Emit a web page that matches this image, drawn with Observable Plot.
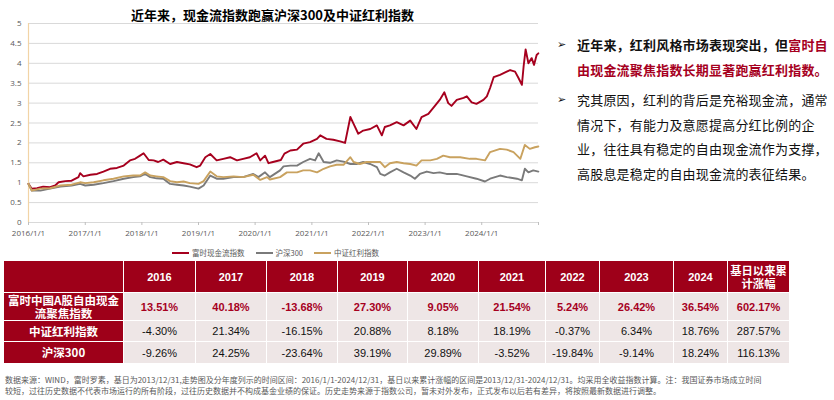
<!DOCTYPE html>
<html><head><meta charset="utf-8">
<script src="https://cdn.jsdelivr.net/npm/d3@7"></script>
<script src="https://cdn.jsdelivr.net/npm/@observablehq/plot@0.6"></script>
<style>
body{margin:0;background:#fff;font-family:"Noto Sans CJK SC",sans-serif;}
#wrap{position:relative;width:834px;height:400px;overflow:hidden;background:#fff;}
#title{position:absolute;left:0;top:5px;width:545px;text-align:center;font-size:13px;font-weight:bold;color:#000;line-height:20px;}
#chart{position:absolute;left:0;top:0;}
#legend{position:absolute;left:172px;top:247px;display:flex;align-items:center;font-size:7.5px;color:#595959;line-height:12px;white-space:nowrap;}
#legend .it{display:flex;align-items:center;margin-right:11px;}
#legend .sw{width:17px;height:2px;margin-right:3px;}
#tbl{position:absolute;left:3px;top:260px;border-collapse:collapse;table-layout:fixed;width:786px;}
#tbl td{border:1.5px solid #fff;text-align:center;padding:0;font-family:"Liberation Sans",Arial,sans-serif;font-size:11px;color:#111;background:#EEE6E6;}
#tbl tr.h td{background:#9E0019;color:#fff;font-weight:bold;height:31px;}
#tbl td.nm{background:#9E0019;color:#fff;font-weight:bold;font-family:"Noto Sans CJK SC",sans-serif;font-size:11.5px;line-height:13px;white-space:pre-line;}
#tbl tr.h td.last{font-family:"Noto Sans CJK SC",sans-serif;font-size:11.3px;line-height:13px;white-space:pre-line;}
#tbl td.red{color:#A6001E;font-weight:bold;}
#side{position:absolute;left:557px;top:33px;width:277px;font-size:13px;color:#111;}
#side .p{position:relative;padding-left:20px;line-height:24.5px;letter-spacing:0.2px;white-space:nowrap;}
#side .b{position:absolute;left:0;top:0;font-family:"DejaVu Sans",sans-serif;font-size:11px;}
#side .red{color:#A6001E;}
#note{position:absolute;left:5px;top:374px;font-size:8px;line-height:11px;color:#595959;white-space:nowrap;}
</style></head><body>
<div id="wrap">
  <div id="chart"></div>
  <div id="title"></div>
  <div id="legend"></div>
  <table id="tbl"></table>
  <div id="side"></div>
  <div id="note"></div>
</div>
<script>
// ---------- chart data ----------
const seriesNames = ["富时现金流指数", "沪深300", "中证红利指数"];
const seriesColors = ["#A6001E", "#7A7A7A", "#C9A25F"];

const fcfDates = ["2016-01-01","2016-01-22","2016-02-25","2016-04-05","2016-05-19","2016-06-21","2016-07-13","2016-08-25","2016-10-05","2016-11-18","2016-11-29","2016-12-20","2017-02-03","2017-03-18","2017-04-28","2017-06-10","2017-07-24","2017-09-06","2017-10-16","2017-11-18","2017-12-20","2018-01-12","2018-02-14","2018-03-18","2018-04-16","2018-05-19","2018-07-02","2018-08-15","2018-09-27","2018-11-06","2018-12-20","2019-01-12","2019-02-14","2019-03-18","2019-04-28","2019-06-10","2019-07-24","2019-09-06","2019-10-16","2019-11-28","2020-01-10","2020-02-03","2020-03-05","2020-03-27","2020-04-25","2020-06-15","2020-07-08","2020-08-15","2020-09-27","2020-11-06","2020-12-20","2021-02-03","2021-02-24","2021-04-05","2021-05-19","2021-07-02","2021-08-03","2021-09-06","2021-09-27","2021-10-27","2021-11-28","2022-01-12","2022-02-24","2022-03-28","2022-04-16","2022-05-19","2022-07-02","2022-08-15","2022-09-27","2022-11-06","2022-12-09","2023-01-22","2023-03-05","2023-04-05","2023-05-05","2023-05-30","2023-06-20","2023-07-24","2023-09-06","2023-09-27","2023-10-28","2023-11-28","2024-01-12","2024-02-03","2024-02-24","2024-03-18","2024-04-28","2024-06-10","2024-07-02","2024-08-03","2024-08-25","2024-09-16","2024-09-27","2024-10-10","2024-10-28","2024-11-18","2024-12-03","2024-12-20","2024-12-31"];
const fcfValues = [0.97,0.85,0.86,0.90,0.89,0.93,1.01,1.04,1.05,1.14,1.24,1.16,1.20,1.22,1.28,1.35,1.37,1.43,1.56,1.60,1.68,1.74,1.57,1.56,1.52,1.58,1.47,1.52,1.49,1.46,1.39,1.43,1.64,1.72,1.56,1.60,1.64,1.56,1.60,1.64,1.74,1.56,1.68,1.49,1.52,1.57,1.73,1.81,1.83,1.98,2.02,2.10,2.19,2.10,2.08,2.04,2.00,2.65,2.48,2.23,2.31,2.35,2.44,2.19,2.40,2.44,2.52,2.44,2.56,2.35,2.65,2.73,2.93,3.08,3.27,3.00,2.93,3.08,3.13,3.17,3.02,2.98,3.08,3.17,3.38,3.65,3.71,3.79,3.83,3.79,3.63,3.46,3.92,4.35,4.00,4.13,3.96,4.21,4.25];

const hs300Dates = ["2016-01-01","2016-01-22","2016-03-18","2016-05-19","2016-07-24","2016-10-05","2016-11-29","2017-01-01","2017-02-24","2017-04-28","2017-07-02","2017-09-06","2017-11-06","2017-12-20","2018-01-22","2018-02-24","2018-04-05","2018-05-19","2018-07-02","2018-08-15","2018-09-27","2018-11-06","2019-01-01","2019-02-03","2019-03-18","2019-04-28","2019-06-10","2019-08-15","2019-10-16","2019-12-20","2020-01-22","2020-03-05","2020-04-05","2020-06-10","2020-07-02","2020-08-15","2020-09-27","2020-11-06","2020-12-20","2021-01-22","2021-02-14","2021-03-18","2021-04-28","2021-06-10","2021-07-24","2021-09-06","2021-10-16","2021-11-28","2022-01-12","2022-02-24","2022-03-18","2022-04-16","2022-05-19","2022-07-02","2022-08-15","2022-09-27","2022-10-27","2022-11-28","2023-01-12","2023-02-24","2023-04-05","2023-05-19","2023-07-24","2023-09-27","2023-11-28","2024-01-22","2024-02-24","2024-04-28","2024-06-10","2024-08-15","2024-09-16","2024-10-05","2024-10-28","2024-11-28","2024-12-31"];
const hs300Values = [0.97,0.80,0.80,0.85,0.90,0.93,0.97,0.93,0.95,0.99,1.04,1.10,1.14,1.16,1.22,1.14,1.11,1.10,0.97,0.95,0.93,0.90,0.85,0.93,1.18,1.10,1.10,1.14,1.14,1.22,1.14,1.26,1.14,1.31,1.41,1.43,1.43,1.52,1.60,1.56,1.74,1.52,1.50,1.56,1.53,1.47,1.47,1.52,1.47,1.39,1.22,1.18,1.26,1.35,1.26,1.18,1.10,1.22,1.28,1.24,1.26,1.22,1.22,1.16,1.10,1.03,1.10,1.18,1.14,1.10,1.06,1.35,1.26,1.31,1.28];

const divDates = ["2016-01-01","2016-01-22","2016-03-18","2016-05-19","2016-07-24","2016-10-05","2016-11-29","2017-01-01","2017-02-24","2017-04-28","2017-07-02","2017-09-06","2017-11-06","2017-12-20","2018-01-22","2018-02-24","2018-04-05","2018-05-19","2018-07-02","2018-08-15","2018-09-27","2018-11-06","2019-01-01","2019-02-03","2019-03-18","2019-04-28","2019-06-10","2019-08-15","2019-10-16","2019-12-20","2020-02-03","2020-03-18","2020-04-05","2020-06-10","2020-07-24","2020-09-27","2020-11-06","2020-12-20","2021-02-03","2021-03-18","2021-04-28","2021-06-10","2021-07-24","2021-09-06","2021-09-27","2021-11-06","2021-12-20","2022-02-03","2022-03-18","2022-04-16","2022-05-19","2022-07-02","2022-08-15","2022-09-27","2022-11-06","2022-12-09","2023-02-03","2023-03-18","2023-04-28","2023-06-10","2023-08-15","2023-10-16","2023-11-28","2024-01-22","2024-02-24","2024-04-28","2024-06-10","2024-07-24","2024-09-06","2024-10-05","2024-11-06","2024-12-09","2024-12-31"];
const divValues = [0.97,0.80,0.85,0.86,0.93,0.95,1.01,0.99,1.01,1.06,1.10,1.16,1.18,1.18,1.26,1.18,1.16,1.14,1.04,1.01,1.03,0.99,0.97,1.04,1.28,1.16,1.14,1.16,1.14,1.20,1.07,1.14,1.08,1.14,1.26,1.26,1.31,1.31,1.26,1.35,1.41,1.45,1.45,1.64,1.52,1.47,1.52,1.52,1.52,1.39,1.49,1.52,1.49,1.47,1.43,1.56,1.56,1.60,1.68,1.64,1.64,1.60,1.60,1.56,1.77,1.85,1.83,1.77,1.60,1.95,1.85,1.89,1.91];

const yTicks = [0, 0.5, 1, 1.5, 2, 2.5, 3, 3.5, 4, 4.5, 5];
const xTickDates = ["2016-01-01","2017-01-01","2018-01-01","2019-01-01","2020-01-01","2021-01-01","2022-01-01","2023-01-01","2024-01-01","2025-01-01"];
const xTickLabels = ["2016/1/1","2017/1/1","2018/1/1","2019/1/1","2020/1/1","2021/1/1","2022/1/1","2023/1/1","2024/1/1",""];

// ---------- table data ----------
const tableYears = ["2016","2017","2018","2019","2020","2021","2022","2023","2024"];
const tableLastHeader = "基日以来累\n计涨幅";
const tableRowNames = ["富时中国A股自由现金\n流聚焦指数", "中证红利指数", "沪深300"];
const fcfReturns = [13.51, 40.18, -13.68, 27.30, 9.05, 21.54, 5.24, 26.42, 36.54, 602.17];
const divReturns = [-4.30, 21.34, -16.15, 20.88, 8.18, 18.19, -0.37, 6.34, 18.76, 287.57];
const hs300Returns = [-9.26, 24.25, -23.64, 39.19, 29.89, -3.52, -19.84, -9.14, 18.24, 116.13];
const colWidths = [120, 72, 71, 71, 70, 71, 67, 54, 74, 54, 62];

// ---------- texts ----------
const titleText = "近年来，现金流指数跑赢沪深300及中证红利指数";
const sideLines1 = [["近年来，红利风格市场表现突出，但", "富时自"], ["", "由现金流聚焦指数长期显著跑赢红利指数。"]];
const sideLines2 = ["究其原因，红利的背后是充裕现金流，通常", "情况下，有能力及意愿提高分红比例的企", "业，往往具有稳定的自由现金流作为支撑，", "高股息是稳定的自由现金流的表征结果。"];
const noteLines = ["数据来源：WIND，富时罗素，基日为2013/12/31,走势图及分年度列示的时间区间：2016/1/1-2024/12/31，基日以来累计涨幅的区间是2013/12/31-2024/12/31。均采用全收益指数计算。注：我国证券市场成立时间",
"较短，过往历史数据不代表市场运行的所有阶段，过往历史数据并不构成基金业绩的保证。历史走势来源于指数公司，暂未对外发布，正式发布以后若有差异，将按照最新数据进行调整。"];

// ---------- build chart ----------
const parse = d3.utcParse("%Y-%m-%d");
function toRows(dates, values, name) { return dates.map((d, i) => ({date: parse(d), value: values[i], series: name})); }
const rowsFcf = toRows(fcfDates, fcfValues, seriesNames[0]);
const rowsHs = toRows(hs300Dates, hs300Values, seriesNames[1]);
const rowsDiv = toRows(divDates, divValues, seriesNames[2]);
const xTicks = xTickDates.map(parse);

const chart = Plot.plot({
  width: 545, height: 242,
  marginLeft: 28, marginRight: 7, marginTop: 23, marginBottom: 20,
  style: {fontFamily: "'Open Sans', sans-serif", fontSize: "8px", color: "#595959", background: "transparent", overflow: "visible"},
  x: {type: "utc", domain: [parse("2016-01-01"), parse("2025-01-01")], label: null},
  y: {domain: [0, 5], label: null},
  marks: [
    Plot.ruleY(yTicks, {stroke: "#D9D9D9", strokeWidth: 1}),
    Plot.axisY(yTicks, {tickSize: 0, tickPadding: 7, tickFormat: d => String(d), fill: "#595959", label: null}),
    Plot.axisX(xTicks, {tickSize: 3, tickPadding: 4.5, stroke: "#BFBFBF", fill: "#595959", label: null, tickFormat: (d, i) => xTickLabels[i]}),
    Plot.ruleX([parse("2016-01-01")], {stroke: "#F2D4A6", strokeWidth: 1.2}),
    Plot.lineY(rowsFcf, {x: "date", y: "value", stroke: seriesColors[0], strokeWidth: 1.9}),
    Plot.lineY(rowsHs, {x: "date", y: "value", stroke: seriesColors[1], strokeWidth: 1.9}),
    Plot.lineY(rowsDiv, {x: "date", y: "value", stroke: seriesColors[2], strokeWidth: 1.9})
  ]
});
document.getElementById("chart").appendChild(chart);

document.getElementById("title").textContent = titleText;

const legend = document.getElementById("legend");
seriesNames.forEach((n, i) => {
  const it = document.createElement("div"); it.className = "it";
  const sw = document.createElement("div"); sw.className = "sw"; sw.style.background = seriesColors[i];
  const tx = document.createElement("span"); tx.textContent = n;
  it.appendChild(sw); it.appendChild(tx); legend.appendChild(it);
});

// ---------- build table ----------
const tbl = document.getElementById("tbl");
const cg = document.createElement("colgroup");
colWidths.forEach(w => { const c = document.createElement("col"); c.style.width = w + "px"; cg.appendChild(c); });
tbl.appendChild(cg);
const fmt = v => v.toFixed(2) + "%";
let html = '<tr class="h"><td class="nm"></td>' + tableYears.map(y => `<td>${y}</td>`).join("") + `<td class="last">${tableLastHeader}</td></tr>`;
const rowsT = [[fcfReturns, true, 28], [divReturns, false, 21], [hs300Returns, false, 22]];
rowsT.forEach(([vals, red, h], r) => {
  html += `<tr style="height:${h}px"><td class="nm">${tableRowNames[r]}</td>` + vals.map(v => `<td class="${red ? 'red' : ''}">${fmt(v)}</td>`).join("") + "</tr>";
});
tbl.insertAdjacentHTML("beforeend", html);

// ---------- side text ----------
const side = document.getElementById("side");
const p1 = document.createElement("div"); p1.className = "p"; p1.style.fontWeight = "bold";
p1.innerHTML = '<span class="b">➢</span>' + sideLines1.map(([a, b]) => `${a}<span class="red">${b}</span>`).join("<br>");
const p2 = document.createElement("div"); p2.className = "p"; p2.style.marginTop = "6px";
p2.innerHTML = '<span class="b">➢</span>' + sideLines2.join("<br>");
side.appendChild(p1); side.appendChild(p2);

document.getElementById("note").innerHTML = noteLines.join("<br>");
</script>
</body></html>
